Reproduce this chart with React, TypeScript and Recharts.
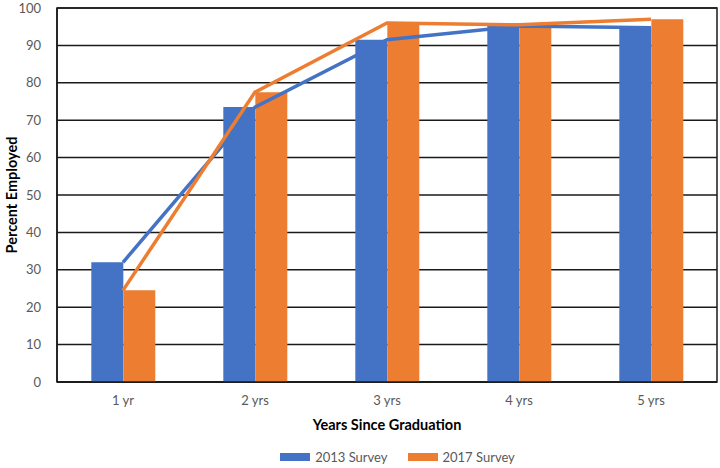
import React from 'react';
import {
  ComposedChart,
  Bar,
  Line,
  XAxis,
  YAxis,
  CartesianGrid,
  Legend,
  ReferenceArea
} from 'recharts';

const years = ['1 yr', '2 yrs', '3 yrs', '4 yrs', '5 yrs'];
const survey2013 = [32, 73.5, 91.5, 95.2, 94.7];
const survey2017 = [24.5, 77.5, 96, 95.5, 97];
const yTicks = [0, 10, 20, 30, 40, 50, 60, 70, 80, 90, 100];

const BLUE = '#4472C4';
const ORANGE = '#ED7D31';
const FONT = 'Lato, "Open Sans", sans-serif';

const chartData = years.map((year, i) => ({
  year,
  s2013: survey2013[i],
  s2017: survey2017[i]
}));

const LegendContent = () => (
  <div
    style={{
      display: 'flex',
      justifyContent: 'center',
      alignItems: 'center',
      gap: 20,
      fontFamily: FONT,
      fontSize: 13,
      lineHeight: '16px',
      color: '#595959',
      paddingLeft: 78
    }}
  >
    {[
      { name: '2013 Survey', color: BLUE },
      { name: '2017 Survey', color: ORANGE }
    ].map((item) => (
      <span key={item.name} style={{ display: 'flex', alignItems: 'center' }}>
        <span style={{ width: 30, height: 8, background: item.color, marginRight: 5, display: 'inline-block' }} />
        {item.name}
      </span>
    ))}
  </div>
);

const App: React.FC = () => {
  return (
    <div style={{ position: 'absolute', left: 0, top: 0, width: 720, height: 468, background: '#fff' }}>
      <ComposedChart
        width={720}
        height={468}
        data={chartData}
        margin={{ top: 8, right: 3, left: 0, bottom: 0 }}
        barGap={0}
        barCategoryGap="26%"
      >
        <CartesianGrid vertical={false} stroke="#1a1a1a" strokeWidth={1.5} />
        <XAxis
          dataKey="year"
          height={70}
          tickLine={false}
          tickMargin={8}
          axisLine={{ stroke: '#1a1a1a', strokeWidth: 1.5 }}
          tick={{ fill: '#595959', fontSize: 13, fontFamily: FONT }}
          label={{
            value: 'Years Since Graduation',
            position: 'insideBottom',
            offset: 22,
            style: { fill: '#000', fontWeight: 700, fontSize: 14.5, fontFamily: FONT }
          }}
        />
        <YAxis
          width={57}
          domain={[0, 100]}
          ticks={yTicks}
          interval={0}
          tickLine={false}
          tickMargin={10}
          axisLine={{ stroke: '#1a1a1a', strokeWidth: 1.5 }}
          tick={{ fill: '#595959', fontSize: 13, fontFamily: FONT }}
          label={{
            value: 'Percent Employed',
            angle: -90,
            position: 'insideLeft',
            offset: 12,
            style: { textAnchor: 'middle', fill: '#000', fontWeight: 700, fontSize: 14.5, fontFamily: FONT }
          }}
        />
        <ReferenceArea y1={0} y2={100} fill="none" stroke="#1a1a1a" strokeWidth={1.5} />
        <Bar dataKey="s2013" name="2013 Survey" fill={BLUE} isAnimationActive={false} />
        <Bar dataKey="s2017" name="2017 Survey" fill={ORANGE} isAnimationActive={false} />
        <Line
          dataKey="s2013"
          stroke={BLUE}
          strokeWidth={3.5}
          dot={false}
          activeDot={false}
          legendType="none"
          isAnimationActive={false}
        />
        <Line
          dataKey="s2017"
          stroke={ORANGE}
          strokeWidth={3.5}
          dot={false}
          activeDot={false}
          legendType="none"
          isAnimationActive={false}
        />
        <Legend
          verticalAlign="bottom"
          height={16}
          content={<LegendContent />}
          wrapperStyle={{ top: 449, bottom: 'auto', height: 16 }}
        />
      </ComposedChart>
    </div>
  );
};

export default App;
